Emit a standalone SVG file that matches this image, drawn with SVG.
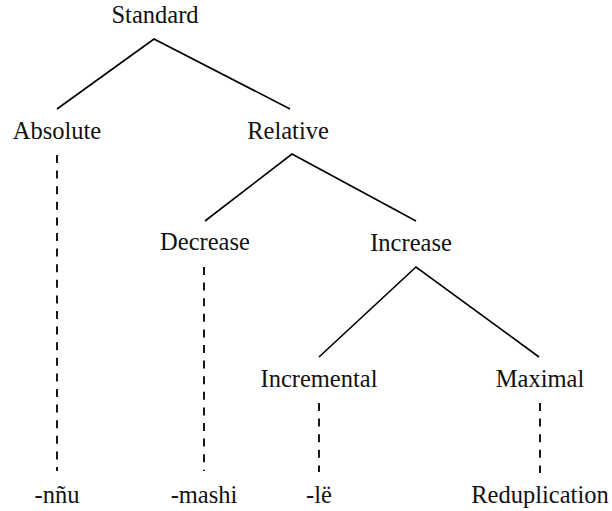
<svg xmlns="http://www.w3.org/2000/svg" width="612" height="511" viewBox="0 0 612 511">
<style>
text{font-family:"Liberation Serif","Times New Roman",serif;font-size:24.5px;fill:#111;text-anchor:middle}
.e{stroke:#000;stroke-width:1.6;fill:none}
.d{stroke:#000;stroke-width:1.8;fill:none;stroke-dasharray:8 7.6}
</style>
<rect width="612" height="511" fill="#fff"/>
<g id="connectors">
<path class="e" d="M57,109 L154,39 L290,109"/>
<path class="e" d="M205,221 L292,154 L416,221"/>
<path class="e" d="M319,357 L416,267 L539,357"/>
<line class="d" x1="57" y1="155" x2="57" y2="471"/>
<line class="d" x1="204" y1="267" x2="204" y2="471"/>
<line class="d" x1="319" y1="403" x2="319" y2="472"/>
<line class="d" x1="540" y1="403" x2="540" y2="473"/>
</g>
<g id="standard"><text x="155" y="23">Standard</text></g>
<g id="absolute"><text x="57" y="139">Absolute</text></g>
<g id="relative"><text x="288" y="139">Relative</text></g>
<g id="decrease"><text x="205" y="250">Decrease</text></g>
<g id="increase"><text x="411" y="251">Increase</text></g>
<g id="incremental"><text x="319" y="387">Incremental</text></g>
<g id="maximal"><text x="540" y="387">Maximal</text></g>
<g id="nnu"><text x="57" y="503">-nñu</text></g>
<g id="mashi"><text x="204" y="503">-mashi</text></g>
<g id="le"><text x="319" y="503">-lë</text></g>
<g id="reduplication"><text x="540" y="503">Reduplication</text></g>
</svg>
